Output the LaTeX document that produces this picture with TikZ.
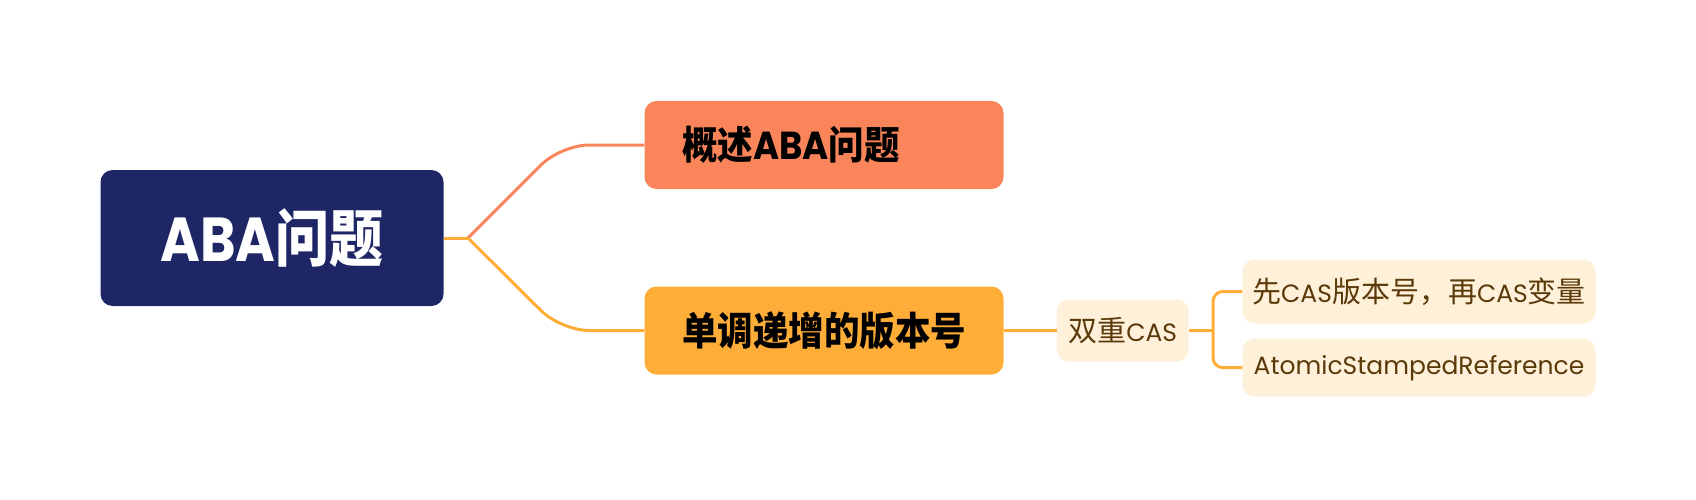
\documentclass[tikz,border=0pt]{standalone}
\usepackage{graphicx}
\usepackage{fontspec}
\newfontfamily\zhf{Noto Sans CJK SC}
\newfontfamily\latf{Poppins}
\newcommand{\zhs}[1]{{\fontsize{29}{34}\selectfont\zhf #1}}
\newcommand{\las}[1]{{\fontsize{25}{30}\selectfont\latf #1}}
\definecolor{navy}{HTML}{1F2666}
\definecolor{coral}{HTML}{FA855A}
\definecolor{amber}{HTML}{FFAD39}
\definecolor{cream}{HTML}{FFF0D9}
\definecolor{brown}{HTML}{5B3A0A}
\tikzset{
  rootbox/.style={fill=navy, rounded corners=12pt, minimum width=343pt, minimum height=136pt, inner sep=0pt, text=white, font=\fontsize{54}{60}\selectfont\bfseries},
  mainbox/.style={rounded corners=12pt, text width=284pt, inner xsep=37.5pt, inner ysep=0pt, minimum height=88pt, align=left, text=black, font=\fontsize{35.5}{40}\selectfont\bfseries},
  subbox/.style={fill=cream, rounded corners=12pt, inner sep=0pt, text=brown},
  conn/.style={line width=3pt}
}
\begin{document}
\begin{tikzpicture}[x=1pt,y=-1pt]
\useasboundingbox (0,0) rectangle (1696,500);
\node[rootbox] (root) at (272,238) {\scalebox{1}[1.15]{{\latf ABA}{\zhf 问题}}};
\node[mainbox, fill=coral] (b1) at (824,145) {\scalebox{1}[1.1]{{\zhf 概述}{\latf ABA}{\zhf 问题}}};
\node[mainbox, fill=amber] (b2) at (824,330.5) {\scalebox{1}[1.1]{\zhf 单调递增的版本号}};
\node[subbox, minimum width=132pt, minimum height=62pt] (dual) at (1122.7,330.5) {\zhs{双重}\las{CAS}};
\node[subbox, minimum width=353pt, minimum height=64pt] (c1) at (1419,291.5) {\zhs{先}\las{CAS}\zhs{版本号，再}\las{CAS}\zhs{变量}};
\node[subbox, minimum width=353pt, minimum height=58pt] (c2) at (1419,367.7) {\las{AtomicStampedReference}};
\coordinate (j) at (468,238);
\coordinate (k) at (1213,330.5);
\draw[conn, amber] (root.east) -- (j);
\draw[conn, coral, rounded corners=28pt] (j) -- (561,145) -- (b1.west);
\draw[conn, amber, rounded corners=28pt] (j) -- (561,330.5) -- (b2.west);
\draw[conn, amber] (b2.east) -- (dual.west);
\draw[conn, amber] (dual.east) -- (k);
\draw[conn, amber, rounded corners=10pt] (c1.west) -- (k |- c1.west) -- (k |- c2.west) -- (c2.west);
\end{tikzpicture}
\end{document}
